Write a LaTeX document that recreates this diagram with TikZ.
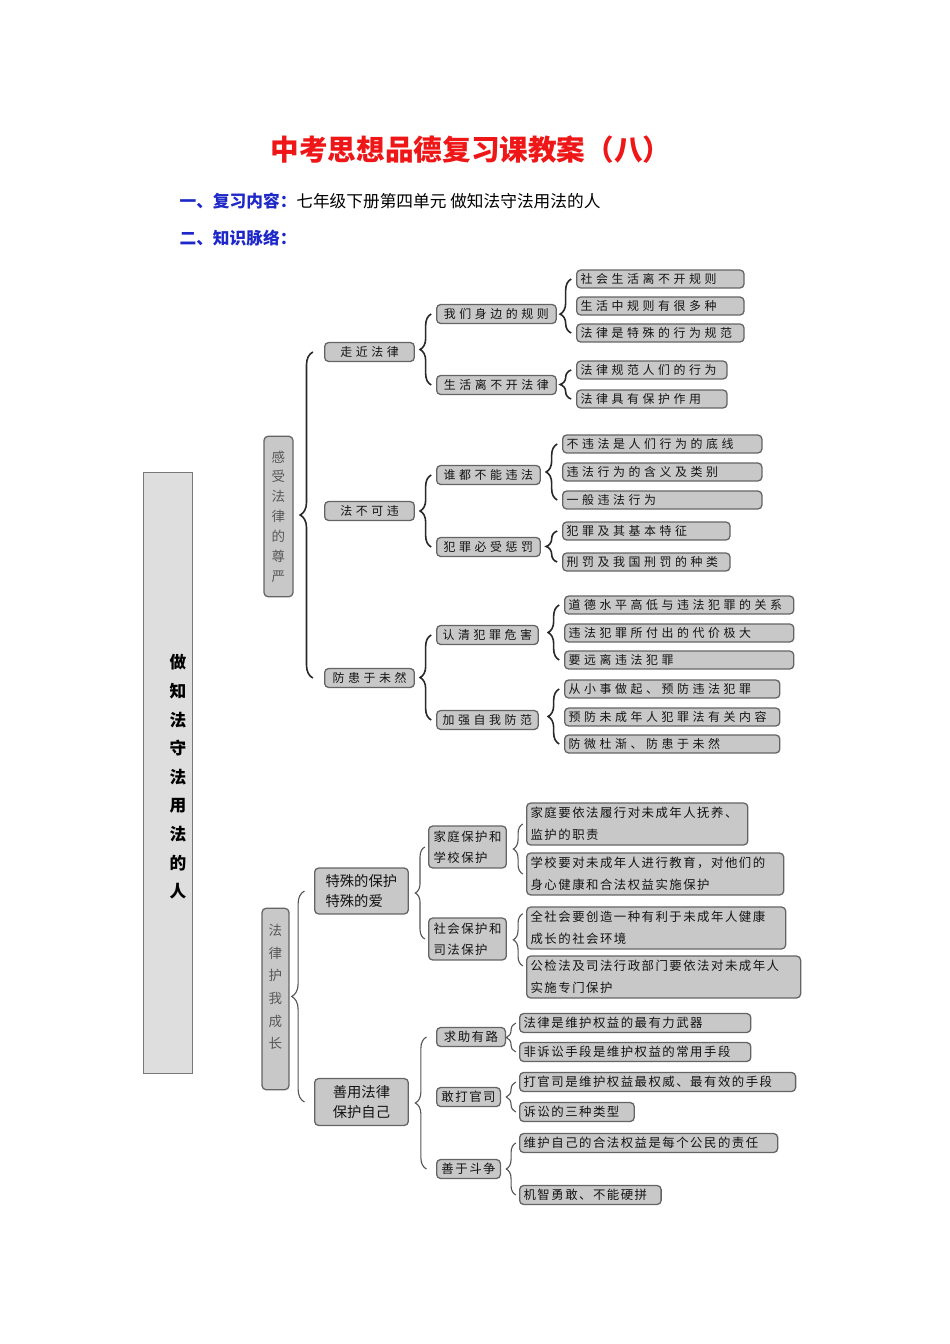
\documentclass[tikz,border=0pt]{standalone}
\usepackage{fontspec}
\setmainfont{Noto Sans CJK SC}
\newfontfamily\boxfont[LetterSpace=30]{Noto Sans CJK SC}
\newfontfamily\boxfontb[LetterSpace=12]{Noto Sans CJK SC}
\usepackage{tikz}
\usetikzlibrary{decorations.pathreplacing}
\definecolor{titlered}{RGB}{238,22,22}
\definecolor{headblue}{RGB}{30,40,200}
\definecolor{boxfill}{RGB}{200,200,200}
\definecolor{boxline}{RGB}{100,100,100}
\definecolor{bigfill}{RGB}{222,222,222}
\definecolor{bigline}{RGB}{120,120,120}
\definecolor{bracec}{RGB}{40,40,40}
\definecolor{bracecb}{RGB}{85,85,85}

\begin{document}
\begin{tikzpicture}[x=0.02211cm, y=-0.02211cm,
    box/.style={draw=boxline, fill=boxfill, rounded corners=2.5pt, line width=0.8pt,
      inner ysep=0pt, inner xsep=2.5pt, text=black!92},
    mid/.style={box, anchor=west, minimum height=19*0.6268pt, minimum width=#1*0.6268pt,
      align=center, font=\boxfont\fontsize{7.5}{12}\selectfont},
    leaf/.style={box, anchor=west, minimum height=18*0.6268pt, text width=#1*0.6268pt-5pt,
      align=left, font=\boxfont\fontsize{7.5}{12}\selectfont},
    midb/.style={box, anchor=west, minimum height=19*0.6268pt, minimum width=#1*0.6268pt,
      align=center, font=\boxfontb\fontsize{7.8}{13.2}\selectfont},
    leafb/.style={box, anchor=west, minimum height=19*0.6268pt, text width=#1*0.6268pt-5pt,
      align=left, font=\boxfontb\fontsize{7.8}{13.6}\selectfont},
    brc/.style={decorate, decoration={brace, amplitude=#1}, draw=bracec, line width=1pt},
    brcb/.style={decorate, decoration={brace, amplitude=#1}, draw=bracecb, line width=0.7pt}]
  \useasboundingbox (0,0) rectangle (950,1344);

  \node[text=titlered, font=\fontsize{18}{20}\selectfont\bfseries] (title) at (471,150) {中考思想品德复习课教案（八）};
  \node[anchor=west, text=headblue, font=\fontsize{10.5}{12}\selectfont\bfseries] (sec1) at (174,201) {一、复习内容：};
  \node[anchor=west, inner xsep=0pt, font=\fontsize{10.5}{12}\selectfont] (sec1txt) at (296,201) {七年级下册第四单元 做知法守法用法的人};
  \node[anchor=west, text=headblue, font=\fontsize{10.5}{12}\selectfont\bfseries] (sec2) at (174,238) {二、知识脉络：};

  \node[draw=bigline, fill=bigfill, line width=0.6pt, minimum width=50*0.6268pt, minimum height=604*0.6268pt] (root) at (168,773) {};
  \node[align=center, font=\fontsize{10.5}{18}\selectfont\bfseries] (roottxt) at (178,777) {做\\知\\法\\守\\法\\用\\法\\的\\人};

  \node[box, minimum width=29*0.6268pt, minimum height=161*0.6268pt, align=center, text=black!65,
    font=\fontsize{8.5}{12.5}\selectfont] (ganshou) at (278.5,516.5) {感\\受\\法\\律\\的\\尊\\严};
  \node[box, minimum width=27*0.6268pt, minimum height=182*0.6268pt] (hulv) at (275.5,999) {};
  \node[align=center, text=black!65, font=\fontsize{8.5}{14.2}\selectfont] (hulvtxt) at (275.5,987) {法\\律\\护\\我\\成\\长};

  \node[mid=90] (zoujin) at (324,352) {走近法律};
  \node[mid=90] (fabu) at (324,511) {法不可违};
  \node[mid=90] (fanghuan) at (324,678) {防患于未然};

  \node[mid=120] (guize) at (436,314) {我们身边的规则};
  \node[mid=120] (shenghuo) at (436,385) {生活离不开法律};
  \node[mid=104] (shui) at (436,475) {谁都不能违法};
  \node[mid=104] (fanzui) at (436,547) {犯罪必受惩罚};
  \node[mid=102] (renqing) at (436,635) {认清犯罪危害};
  \node[mid=102] (jiaqiang) at (436,720) {加强自我防范};

  \node[leaf=168] (g1) at (576,279) {社会生活离不开规则};
  \node[leaf=168] (g2) at (576,306) {生活中规则有很多种};
  \node[leaf=168] (g3) at (576,333) {法律是特殊的行为规范};
  \node[leaf=151] (s1) at (576,370) {法律规范人们的行为};
  \node[leaf=151] (s2) at (576,399) {法律具有保护作用};
  \node[leaf=200] (w1) at (562,444) {不违法是人们行为的底线};
  \node[leaf=200] (w2) at (562,472) {违法行为的含义及类别};
  \node[leaf=200] (w3) at (562,500) {一般违法行为};
  \node[leaf=168] (f1) at (562,531) {犯罪及其基本特征};
  \node[leaf=168] (f2) at (562,562) {刑罚及我国刑罚的种类};
  \node[leaf=230] (r1) at (564,605) {道德水平高低与违法犯罪的关系};
  \node[leaf=230] (r2) at (564,633) {违法犯罪所付出的代价极大};
  \node[leaf=230] (r3) at (564,660) {要远离违法犯罪};
  \node[leaf=216] (j1) at (564,689) {从小事做起、预防违法犯罪};
  \node[leaf=216] (j2) at (564,717) {预防未成年人犯罪法有关内容};
  \node[leaf=216] (j3) at (564,744) {防微杜渐、防患于未然};

  \draw[brc=8pt] ([xshift=-7pt]fanghuan.west) -- ([xshift=-7pt]zoujin.west);
  \draw[brc=7pt] ([xshift=-3pt]shenghuo.west) -- ([xshift=-3pt]guize.west);
  \draw[brc=7pt] ([xshift=-3pt]fanzui.west) -- ([xshift=-3pt]shui.west);
  \draw[brc=7pt] ([xshift=-3pt]jiaqiang.west) -- ([xshift=-3pt]renqing.west);
  \draw[brc=7pt, decoration={aspect=0.35}] ([xshift=-3pt]g3.west) -- ([xshift=-3pt]g1.west);
  \draw[brc=7pt] ([xshift=-3pt]s2.west) -- ([xshift=-3pt]s1.west);
  \draw[brc=7pt] ([xshift=-3pt]w3.west) -- ([xshift=-3pt]w1.west);
  \draw[brc=7pt] ([xshift=-3pt]f2.west) -- ([xshift=-3pt]f1.west);
  \draw[brc=7pt] ([xshift=-3pt]r3.west) -- ([xshift=-3pt]r1.west);
  \draw[brc=7pt] ([xshift=-3pt]j3.west) -- ([xshift=-3pt]j1.west);

  \node[box, anchor=west, minimum height=46*0.6268pt, text width=72*0.6268pt, inner xsep=11*0.6268pt,
    align=left, font=\fontsize{9}{13}\selectfont] (teshu) at (314,891) {特殊的保护\\特殊的爱};
  \node[box, anchor=west, minimum height=47*0.6268pt, minimum width=94*0.6268pt,
    align=center, font=\fontsize{9}{13}\selectfont] (shanyong) at (314,1102) {善用法律\\保护自己};

  \node[midb=78, minimum height=42*0.6268pt, align=left] (jiating) at (428,847) {家庭保护和\\学校保护};
  \node[midb=78, minimum height=42*0.6268pt, align=left] (shehui) at (428,939) {社会保护和\\司法保护};
  \node[midb=69] (qiuzhu) at (436,1037) {求助有路};
  \node[midb=64] (gan) at (436,1097) {敢打官司};
  \node[midb=64] (shanyu) at (436,1169) {善于斗争};

  \node[leafb=222, minimum height=42*0.6268pt] (jt1) at (526,824) {家庭要依法履行对未成年人抚养、\\监护的职责};
  \node[leafb=258, minimum height=42*0.6268pt] (jt2) at (526,874) {学校要对未成年人进行教育，对他们的\\身心健康和合法权益实施保护};
  \node[leafb=260, minimum height=42*0.6268pt] (sh1) at (526,928) {全社会要创造一种有利于未成年人健康\\成长的社会环境};
  \node[leafb=275, minimum height=42*0.6268pt] (sh2) at (526,977) {公检法及司法行政部门要依法对未成年人\\实施专门保护};
  \node[leafb=232] (q1) at (519,1023) {法律是维护权益的最有力武器};
  \node[leafb=232] (q2) at (519,1052) {非诉讼手段是维护权益的常用手段};
  \node[leafb=277] (d1) at (519,1082) {打官司是维护权益最权威、最有效的手段};
  \node[leafb=115] (d2) at (519,1112) {诉讼的三种类型};
  \node[leafb=259] (sy1) at (519,1143) {维护自己的合法权益是每个公民的责任};
  \node[leafb=142] (sy2) at (519,1195) {机智勇敢、不能硬拼};

  \draw[brcb=8pt] ([xshift=-6pt]shanyong.west) -- ([xshift=-6pt]teshu.west);
  \draw[brcb=6pt] ([xshift=-2pt]shehui.west) -- ([xshift=-2pt]jiating.west);
  \draw[brcb=7pt] ([xshift=-6pt]shanyu.west) -- ([xshift=-6pt]qiuzhu.west);
  \draw[brcb=6pt] ([xshift=-2pt]jt2.west) -- ([xshift=-2pt]jt1.west);
  \draw[brcb=6pt] ([xshift=-2pt,yshift=7pt]sh2.west) -- ([xshift=-2pt,yshift=9pt]sh1.west);
  \draw[brcb=6pt] ([xshift=-2pt]q2.west) -- ([xshift=-2pt]q1.west);
  \draw[brcb=6pt] ([xshift=-2pt]d2.west) -- ([xshift=-2pt]d1.west);
  \draw[brcb=6pt] ([xshift=-2pt]sy2.west) -- ([xshift=-2pt]sy1.west);
\end{tikzpicture}
\end{document}
